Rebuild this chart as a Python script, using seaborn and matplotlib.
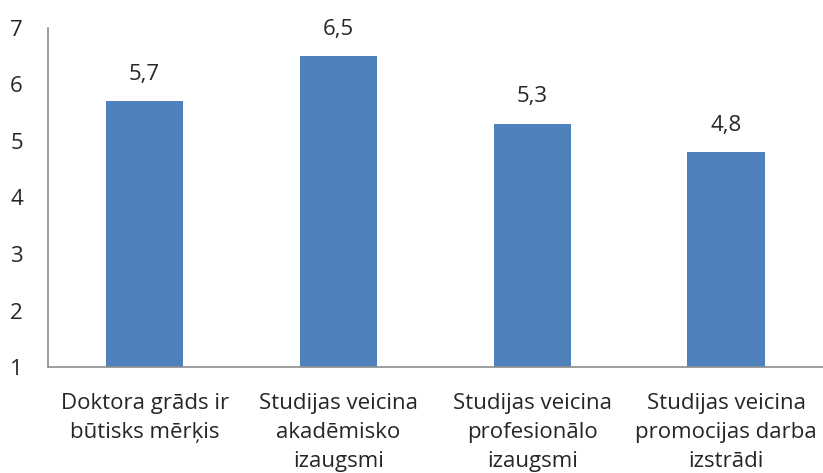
import matplotlib
matplotlib.use("Agg")
import matplotlib.pyplot as plt
import pandas as pd
import seaborn as sns

categories = ["Doktora grāds ir\nbūtisks mērķis",
              "Studijas veicina\nakadēmisko\nizaugsmi",
              "Studijas veicina\nprofesionālo\nizaugsmi",
              "Studijas veicina\npromocijas darba\nizstrādi"]
values = [5.7, 6.5, 5.3, 4.8]
value_labels = ["5,7", "6,5", "5,3", "4,8"]
yticks = [1, 2, 3, 4, 5, 6, 7]

df = pd.DataFrame({"cat": categories, "val": values})

sns.set_style("white")
plt.rcParams["font.family"] = ["Open Sans", "DejaVu Sans"]

fig = plt.figure(figsize=(8.23, 4.73), dpi=100)
ax = fig.add_axes([0.058, 0.224, 0.942, 0.717])

# bars start from the baseline 1
sns.barplot(data=df, x="cat", y="val", color="#4F81BD", width=0.4,
            saturation=1, ax=ax)
for p in ax.patches:
    p.set_edgecolor("none")

ax.set_ylim(1, 7)
ax.set_xlim(-0.5, 3.5)
ax.set_yticks(yticks)
ax.set_yticklabels([str(t) for t in yticks], fontsize=16)
ax.tick_params(axis="y", length=0, pad=27)
ax.tick_params(axis="x", length=0, pad=19)
ax.set_xticklabels(categories, fontsize=16, linespacing=1.5, va="top")
for t in ax.get_yticklabels():
    t.set_ha("left")
ax.set_xlabel("")
ax.set_ylabel("")

for s in ["top", "right"]:
    ax.spines[s].set_visible(False)
for s in ["left", "bottom"]:
    ax.spines[s].set_color("#8c8c8c")
    ax.spines[s].set_linewidth(1.2)

for i, (v, lab) in enumerate(zip(values, value_labels)):
    ax.annotate(lab, (i, v), xytext=(0, 12), textcoords="offset points",
                ha="center", va="bottom", fontsize=16)

fig.savefig("out.png", dpi=100)
